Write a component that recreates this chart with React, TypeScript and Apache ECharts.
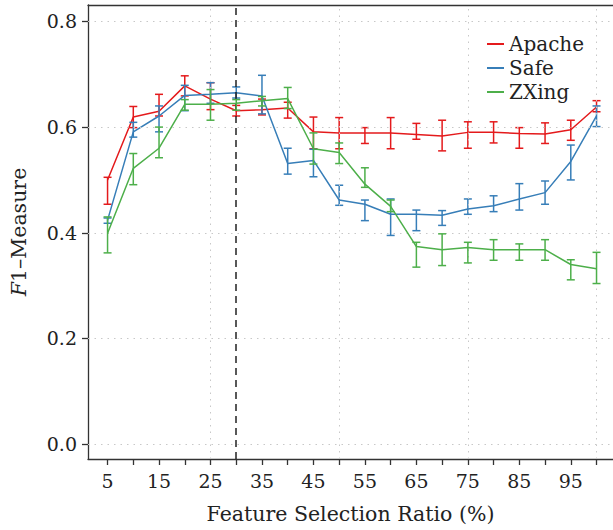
import React, { useEffect, useRef } from "react";
import * as echarts from "echarts";

const ratios = [5, 10, 15, 20, 25, 30, 35, 40, 45, 50, 55, 60, 65, 70, 75, 80, 85, 90, 95, 100];
const xTickValues = [5, 10, 15, 20, 25, 30, 35, 40, 45, 50, 55, 60, 65, 70, 75, 80, 85, 90, 95, 100];
const xLabelValues = [5, 15, 25, 35, 45, 55, 65, 75, 85, 95];
const xGridValues = [25, 50, 75, 100];
const yTickValues = [0, 0.2, 0.4, 0.6, 0.8];
const cutoffRatio = 30;

const apacheMean = [0.500, 0.619, 0.630, 0.678, 0.653, 0.631, 0.633, 0.636, 0.591, 0.589, 0.589, 0.589, 0.586, 0.583, 0.590, 0.590, 0.588, 0.587, 0.595, 0.638];
const apacheLow = [0.454, 0.599, 0.621, 0.659, 0.633, 0.621, 0.623, 0.617, 0.559, 0.559, 0.569, 0.559, 0.577, 0.555, 0.560, 0.570, 0.560, 0.569, 0.575, 0.629];
const apacheHigh = [0.505, 0.639, 0.662, 0.697, 0.684, 0.641, 0.653, 0.647, 0.619, 0.618, 0.599, 0.618, 0.607, 0.613, 0.610, 0.610, 0.599, 0.608, 0.613, 0.650];

const safeMean = [0.424, 0.591, 0.621, 0.660, 0.662, 0.665, 0.659, 0.531, 0.537, 0.462, 0.454, 0.435, 0.435, 0.433, 0.445, 0.451, 0.464, 0.476, 0.535, 0.621];
const safeLow = [0.418, 0.581, 0.591, 0.631, 0.645, 0.655, 0.625, 0.511, 0.506, 0.452, 0.423, 0.395, 0.404, 0.414, 0.435, 0.440, 0.443, 0.454, 0.500, 0.601];
const safeHigh = [0.428, 0.609, 0.640, 0.679, 0.684, 0.676, 0.698, 0.560, 0.558, 0.490, 0.462, 0.464, 0.443, 0.442, 0.464, 0.470, 0.493, 0.498, 0.566, 0.640];

const zxingMean = [0.399, 0.522, 0.560, 0.643, 0.643, 0.645, 0.650, 0.654, 0.559, 0.552, 0.492, 0.450, 0.374, 0.368, 0.372, 0.368, 0.368, 0.368, 0.340, 0.332];
const zxingLow = [0.362, 0.491, 0.542, 0.632, 0.613, 0.632, 0.640, 0.635, 0.530, 0.531, 0.486, 0.440, 0.335, 0.338, 0.343, 0.348, 0.348, 0.348, 0.311, 0.304];
const zxingHigh = [0.430, 0.550, 0.600, 0.652, 0.671, 0.652, 0.658, 0.675, 0.589, 0.570, 0.523, 0.462, 0.382, 0.398, 0.382, 0.387, 0.379, 0.387, 0.349, 0.363];

const seriesNames = ["Apache", "Safe", "ZXing"];
const seriesColors = ["#e41a1c", "#377eb8", "#4daf4a"];

const FONT = "'DejaVu Serif', serif";
const TEXT = "#222";

export default function App() {
  const ref = useRef<HTMLDivElement>(null);
  useEffect(() => {
    if (!ref.current) return;
    const chart = echarts.init(ref.current, null, { renderer: "svg" });
    const groups = [
      { mean: apacheMean, low: apacheLow, high: apacheHigh },
      { mean: safeMean, low: safeLow, high: safeHigh },
      { mean: zxingMean, low: zxingLow, high: zxingHigh },
    ];
    const series: any[] = [];
    series.push({
      type: "line",
      data: [],
      silent: true,
      z: 1,
      markLine: {
        silent: true,
        symbol: ["none", "none"],
        label: { show: false },
        lineStyle: { color: "#c8c8c8", type: [1.5, 5], width: 1 },
        data: [
          ...xGridValues.map((v) => ({ xAxis: v })),
          ...yTickValues.map((v) => ({ yAxis: v })),
        ],
      },
    });
    groups.forEach((g, i) => {
      const color = seriesColors[i];
      series.push({
        name: seriesNames[i],
        type: "line",
        data: ratios.map((r, k) => [r, g.mean[k]]),
        showSymbol: false,
        symbol: "none",
        lineStyle: { color, width: 1.5 },
        itemStyle: { color },
        z: 3 + i,
      });
      series.push({
        type: "custom",
        data: ratios.map((r, k) => [r, g.low[k], g.high[k]]),
        encode: { x: 0, y: [1, 2] },
        z: 3 + i,
        silent: true,
        renderItem: (params: any, api: any) => {
          const x = api.value(0);
          const p1 = api.coord([x, api.value(1)]);
          const p2 = api.coord([x, api.value(2)]);
          const hw = 4;
          const style = { stroke: color, lineWidth: 1.5, fill: "none" };
          return {
            type: "group",
            children: [
              { type: "line", shape: { x1: p1[0], y1: p1[1], x2: p2[0], y2: p2[1] }, style },
              { type: "line", shape: { x1: p1[0] - hw, y1: p1[1], x2: p1[0] + hw, y2: p1[1] }, style },
              { type: "line", shape: { x1: p2[0] - hw, y1: p2[1], x2: p2[0] + hw, y2: p2[1] }, style },
            ],
          };
        },
      });
    });
    series.push({
      type: "line",
      data: [],
      silent: true,
      z: 10,
      markLine: {
        silent: true,
        symbol: ["none", "none"],
        label: { show: false },
        lineStyle: { color: "#222", type: [7, 5], width: 1.5 },
        data: [{ xAxis: cutoffRatio }],
      },
    });

    chart.setOption({
      animation: false,
      grid: { left: 88, right: 0, top: 5, bottom: 71 },
      legend: {
        data: seriesNames,
        orient: "vertical",
        left: 482,
        top: 29,
        icon: "rect",
        itemWidth: 17,
        itemHeight: 2,
        itemGap: 4,
        textStyle: { fontFamily: FONT, fontSize: 20, color: TEXT },
      },
      xAxis: [
        {
          type: "value",
          min: 1.2,
          max: 103.2,
          position: "bottom",
          axisLine: { show: true, onZero: false, lineStyle: { color: "#333", width: 1.3 } },
          axisTick: { show: true, customValues: xTickValues, length: 6, lineStyle: { color: "#333", width: 1.3 } },
          axisLabel: {
            customValues: xLabelValues,
            margin: 12,
            fontFamily: FONT,
            fontSize: 19,
            color: TEXT,
          },
          splitLine: { show: false },
          name: "Feature Selection Ratio (%)",
          nameLocation: "middle",
          nameGap: 44,
          nameTextStyle: { fontFamily: FONT, fontSize: 20.5, color: TEXT },
        },
        {
          type: "value",
          min: 1.2,
          max: 103.2,
          position: "top",
          axisLine: { show: true, onZero: false, lineStyle: { color: "#333", width: 1.3 } },
          axisTick: { show: false },
          axisLabel: { show: false },
          splitLine: { show: false },
        },
      ],
      yAxis: {
        type: "value",
        min: -0.028,
        max: 0.831,
        axisLine: { show: true, onZero: false, lineStyle: { color: "#333", width: 1.3 } },
        axisTick: { show: true, customValues: yTickValues, length: 6, lineStyle: { color: "#333", width: 1.3 } },
        axisLabel: {
          customValues: yTickValues,
          margin: 11,
          fontFamily: FONT,
          fontSize: 19,
          color: TEXT,
          formatter: (v: number) => v.toFixed(1),
        },
        splitLine: { show: false },
        name: "{i|F}1–Measure",
        nameLocation: "middle",
        nameRotate: 90,
        nameGap: 59,
        nameTextStyle: {
          fontFamily: FONT,
          fontSize: 20.5,
          color: TEXT,
          rich: { i: { fontFamily: FONT, fontSize: 20.5, fontStyle: "italic", color: TEXT } },
        },
      },
      series,
    });
    return () => chart.dispose();
  }, []);
  return (
    <div
      ref={ref}
      style={{ position: "fixed", left: 0, top: 0, width: 613, height: 530, background: "#fff" }}
    />
  );
}
